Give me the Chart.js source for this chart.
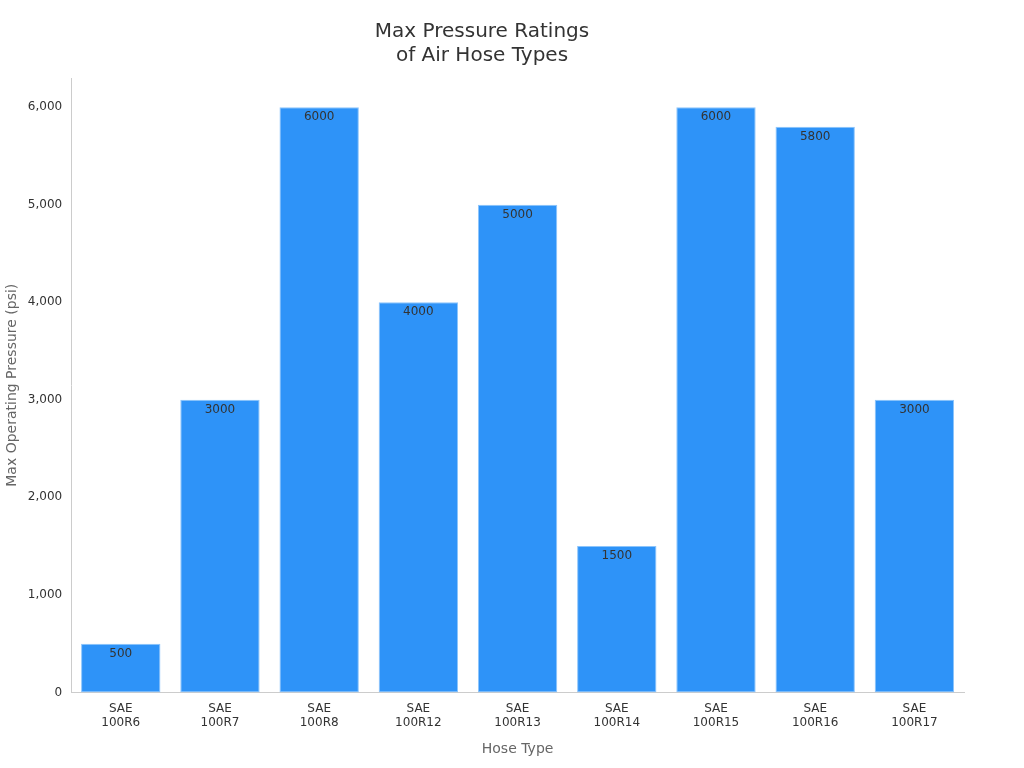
<!DOCTYPE html>
<html>
<head>
<meta charset="utf-8">
<script src="https://cdn.jsdelivr.net/npm/chart.js@4/dist/chart.umd.min.js"></script>
<style>
  html, body { margin: 0; padding: 0; background: #ffffff; }
  #wrap { width: 1024px; height: 768px; }
</style>
</head>
<body>
<div id="wrap"><canvas id="chart" width="1024" height="768"></canvas></div>
<script>
// Chart data
var hoseTypes = [['SAE', '100R6'], ['SAE', '100R7'], ['SAE', '100R8'], ['SAE', '100R12'], ['SAE', '100R13'],
    ['SAE', '100R14'], ['SAE', '100R15'], ['SAE', '100R16'], ['SAE', '100R17']];
var maxPressure = [500, 3000, 6000, 4000, 5000, 1500, 6000, 5800, 3000];
var yTicks = [0, 1000, 2000, 3000, 4000, 5000, 6000];

var BAR = '#2e93f8';
var AXIS = '#cccccc';
var TEXT = '#333333';

Chart.defaults.font.family = "'DejaVu Sans', sans-serif";
Chart.defaults.color = TEXT;

// values written just inside the top of each bar
var valueLabels = {
    id: 'valueLabels',
    afterDatasetsDraw: function (chart) {
        var ctx = chart.ctx;
        var meta = chart.getDatasetMeta(0);
        ctx.save();
        ctx.font = "12px 'DejaVu Sans', sans-serif";
        ctx.fillStyle = TEXT;
        ctx.textAlign = 'center';
        ctx.textBaseline = 'top';
        meta.data.forEach(function (bar, i) {
            ctx.fillText(String(maxPressure[i]), bar.x, bar.y + 4);
        });
        ctx.restore();
    }
};

new Chart(document.getElementById('chart').getContext('2d'), {
    type: 'bar',
    data: {
        labels: hoseTypes,
        datasets: [{
            data: maxPressure,
            backgroundColor: BAR,
            borderColor: '#8cc4fb',
            borderWidth: 1,
            borderSkipped: false,
            barPercentage: 0.8,
            categoryPercentage: 1.0
        }]
    },
    options: {
        responsive: false,
        animation: false,
        layout: { padding: { left: 0, right: 60, top: 0, bottom: 6 } },
        scales: {
            x: {
                grid: { display: false, drawTicks: true, tickLength: 6 },
                border: { color: AXIS },
                ticks: { color: TEXT, font: { size: 12 }, maxRotation: 0, autoSkip: false },
                title: { display: true, text: 'Hose Type', color: '#666666', font: { size: 14 }, padding: { top: 8 } }
            },
            y: {
                min: 0,
                max: 6300,
                afterBuildTicks: function (axis) {
                    axis.ticks = yTicks.map(function (v) { return { value: v }; });
                },
                grid: { display: false, drawTicks: true, tickLength: 6, tickColor: '#333333' },
                border: { color: AXIS },
                ticks: { color: TEXT, font: { size: 12 } },
                title: { display: true, text: 'Max Operating Pressure (psi)', color: '#666666', font: { size: 14 } }
            }
        },
        plugins: {
            legend: { display: false },
            tooltip: { enabled: false },
            title: {
                display: true,
                text: ['Max Pressure Ratings', 'of Air Hose Types'],
                color: TEXT,
                font: { size: 20, weight: 'normal' },
                padding: { top: 20, bottom: 10 }
            }
        }
    },
    plugins: [valueLabels]
});
</script>
</body>
</html>
